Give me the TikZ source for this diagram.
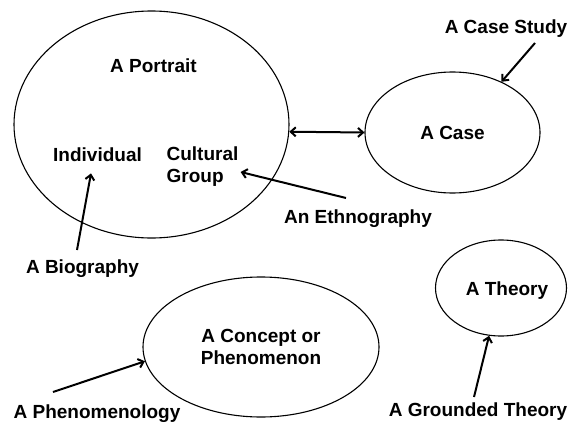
\documentclass[tikz,border=0pt]{standalone}
\usepackage{fontspec}
\setmainfont{Liberation Sans}
\usetikzlibrary{shapes.geometric,arrows.meta}
\begin{document}
\begin{tikzpicture}[x=1pt,y=-1pt,
  txt/.style={font=\fontsize{19}{22}\selectfont\bfseries},
  lbl/.style={txt, inner sep=2pt},
  oval/.style={ellipse, draw, line width=1.1pt, inner sep=0pt},
  arr/.style={line width=2pt, -{Straight Barb[length=5pt,width=9pt]}},
  dblarr/.style={line width=2pt, {Straight Barb[length=5pt,width=9pt]}-{Straight Barb[length=5pt,width=9pt]}},
]
\useasboundingbox (0,0) rectangle (568,423);

% ovals
\node[oval, minimum width=275pt, minimum height=227pt] (portraitoval) at (151.5,124.5) {};
\node[oval, txt, minimum width=175pt, minimum height=121pt] (case) at (452.5,132.5) {A Case};
\node[oval, txt, align=center, minimum width=236pt, minimum height=140pt] (concept) at (261,347) {A Concept or\\Phenomenon};
\node[oval, minimum width=131pt, minimum height=96pt] (theory) at (501,288) {};

% labels inside the ovals
\node[lbl, anchor=base] (portrait) at (153.5,72) {A Portrait};
\node[lbl, anchor=base] (ind) at (97.5,161) {Individual};
\node[lbl, align=left] (cg) at (202.5,167) {Cultural\\Group};
\node[lbl, anchor=base] (theorytxt) at (507,295) {A Theory};

% approach labels
\node[lbl, anchor=base] (cs) at (506,33) {A Case Study};
\node[lbl, anchor=base] (eth) at (358,223) {An Ethnography};
\node[lbl, anchor=base] (bio) at (82.5,273) {A Biography};
\node[lbl, anchor=base] (phen) at (97,418) {A Phenomenology};
\node[lbl, anchor=base] (gt) at (478,416) {A Grounded Theory};

% arrow tails
\coordinate (csT) at (535,43);
\coordinate (ethT) at (346,198);
\coordinate (bioT) at (77,250);
\coordinate (phenT) at (53,392);
\coordinate (gtT) at (474,397);

% connectors
\draw[dblarr] (portraitoval.-3.5) -- (case.west);
\draw[arr] (csT) -- (case.46);
\draw[arr] (ethT) -- ([yshift=-5pt]cg.east);
\draw[arr] (bioT) -- ([xshift=-6.5pt,yshift=-10pt]ind.south);
\draw[arr] (phenT) -- (concept.187.5);
\draw[arr] (gtT) -- (theory.256);
\end{tikzpicture}
\end{document}
